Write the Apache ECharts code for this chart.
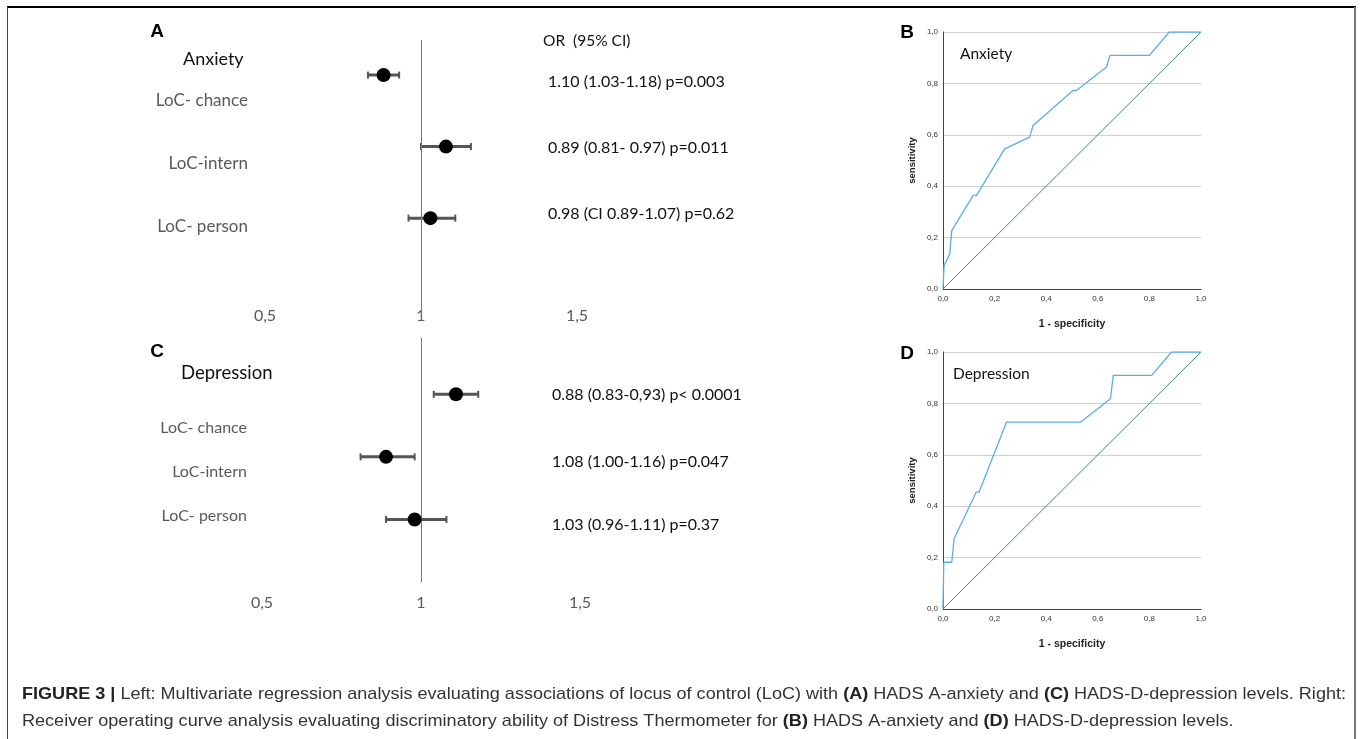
<!DOCTYPE html>
<html>
<head>
<meta charset="utf-8">
<script src="https://cdn.jsdelivr.net/npm/echarts@6/dist/echarts.min.js"></script>
<style>
html,body{margin:0;padding:0;background:#fff;}
#c{width:1362px;height:739px;}
</style>
</head>
<body>
<div id="c"></div>
<script>
// ---------- DATA ----------
// Forest plot rows (top to bottom)
const rowIdx = [0, 1, 2];
const rowLabels = ['LoC- chance', 'LoC-intern', 'LoC- person'];
const rowLabelsC = ['LoC- chance', 'LoC-intern', 'LoC- person'];
// Panel A (Anxiety) plotted odds ratios and CI
const A_or = [0.88, 1.08, 1.03];
const A_lo = [0.83, 1.00, 0.96];
const A_hi = [0.93, 1.16, 1.11];
const A_text = ['1.10 (1.03-1.18) p=0.003', '0.89 (0.81- 0.97) p=0.011', '0.98 (CI 0.89-1.07) p=0.62'];
// Panel C (Depression) plotted odds ratios and CI
const C_or = [1.11, 0.89, 0.98];
const C_lo = [1.04, 0.81, 0.89];
const C_hi = [1.18, 0.98, 1.08];
const C_text = ['0.88 (0.83-0,93) p< 0.0001', '1.08 (1.00-1.16) p=0.047', '1.03 (0.96-1.11) p=0.37'];
const forestTicks = { '0.5': '0,5', '1': '1', '1.5': '1,5' };
// ROC B (Anxiety)
const rocB_fpr = [0, 0.004, 0.026, 0.034, 0.117, 0.13, 0.239, 0.336, 0.349, 0.505, 0.518, 0.634, 0.647, 0.80, 0.877, 1.0];
const rocB_tpr = [0, 0.091, 0.136, 0.227, 0.364, 0.364, 0.545, 0.591, 0.636, 0.773, 0.773, 0.864, 0.909, 0.909, 1.0, 1.0];
// ROC D (Depression)
const rocD_fpr = [0, 0.003, 0.034, 0.043, 0.129, 0.14, 0.246, 0.533, 0.649, 0.66, 0.809, 0.886, 1.0];
const rocD_tpr = [0, 0.182, 0.182, 0.273, 0.455, 0.455, 0.727, 0.727, 0.818, 0.909, 0.909, 1.0, 1.0];
const diag = [[0, 0], [1, 1]];
const captionL1 = ['FIGURE 3 |', ' Left: Multivariate regression analysis evaluating associations of locus of control (LoC) with ', '(A)', ' HADS A-anxiety and ', '(C)', ' HADS-D-depression levels. Right:'];
const captionL2 = ['Receiver operating curve analysis evaluating discriminatory ability of Distress Thermometer for ', '(B)', ' HADS A-anxiety and ', '(D)', ' HADS-D-depression levels.'];

// ---------- HELPERS ----------
const zip = (a, b) => a.map((v, i) => [v, b[i]]);
const FONT = 'Lato';
const GRAY = '#595959';
const CAP = 17;

function errSeries(xi, lo, hi) {
  return {
    type: 'custom', xAxisIndex: xi, yAxisIndex: xi,
    data: rowIdx.map((r, i) => [lo[i], hi[i], r]),
    renderItem: function (params, api) {
      const p1 = api.coord([api.value(0), api.value(2)]);
      const p2 = api.coord([api.value(1), api.value(2)]);
      const st = { stroke: '#555', lineWidth: 3 };
      return {
        type: 'group', children: [
          { type: 'line', shape: { x1: p1[0], y1: p1[1], x2: p2[0], y2: p2[1] }, style: st },
          { type: 'line', shape: { x1: p1[0], y1: p1[1] - 3.5, x2: p1[0], y2: p1[1] + 3.5 }, style: { stroke: '#555', lineWidth: 2 } },
          { type: 'line', shape: { x1: p2[0], y1: p2[1] - 3.5, x2: p2[0], y2: p2[1] + 3.5 }, style: { stroke: '#555', lineWidth: 2 } }
        ]
      };
    },
    silent: true, z: 3
  };
}
function dotSeries(xi, or) {
  return {
    type: 'scatter', xAxisIndex: xi, yAxisIndex: xi,
    data: zip(or, rowIdx), symbolSize: 14,
    itemStyle: { color: '#000', opacity: 1 }, z: 5, silent: true,
    markLine: {
      silent: true, symbol: ['none', 'none'], label: { show: false },
      lineStyle: { color: '#777', width: 1, type: 'solid' },
      data: [{ xAxis: 1 }]
    }
  };
}
function forestX(gi, labelOffset, margin) {
  return {
    gridIndex: gi, type: 'value', min: 0.5, max: 1.5, interval: 0.5,
    offset: labelOffset,
    axisLine: { show: false }, axisTick: { show: false }, splitLine: { show: false },
    axisLabel: {
      margin: margin, color: GRAY, fontFamily: FONT, fontSize: 16,
      formatter: v => forestTicks[String(v)] || ''
    }
  };
}
function forestY(gi, mn, mx) {
  return { gridIndex: gi, type: 'value', inverse: true, min: mn, max: mx, show: false };
}
function rocX(gi) {
  return {
    gridIndex: gi, type: 'value', min: 0, max: 1, interval: 0.2,
    name: '1 - specificity', nameLocation: 'middle', nameGap: 30,
    nameTextStyle: { fontFamily: 'Liberation Sans', fontWeight: 'bold', fontSize: 10.5, color: '#222' },
    axisLine: { show: true, lineStyle: { color: '#444', width: 1 } },
    axisTick: { show: false }, splitLine: { show: false },
    axisLabel: { margin: 6, fontFamily: 'Liberation Sans', fontSize: 8, color: '#333',
      formatter: v => v.toFixed(1).replace('.', ',') }
  };
}
function rocY(gi) {
  return {
    gridIndex: gi, type: 'value', min: 0, max: 1, interval: 0.2,
    name: 'sensitivity', nameLocation: 'middle', nameGap: 26,
    nameTextStyle: { fontFamily: 'Liberation Sans', fontWeight: 'bold', fontSize: 9.5, color: '#222' },
    axisLine: { show: true, lineStyle: { color: '#444', width: 1 } },
    axisTick: { show: false },
    splitLine: { show: true, lineStyle: { color: '#cfcfcf', width: 1 } },
    axisLabel: { margin: 5, fontFamily: 'Liberation Sans', fontSize: 8, color: '#333',
      formatter: v => v.toFixed(1).replace('.', ',') }
  };
}
function rocSeries(gi, fpr, tpr) {
  return [
    { type: 'line', xAxisIndex: gi, yAxisIndex: gi, data: diag, showSymbol: false, silent: true,
      lineStyle: { color: '#3f8a78', width: 1 }, z: 2 },
    { type: 'line', xAxisIndex: gi, yAxisIndex: gi, data: zip(fpr, tpr), showSymbol: false, silent: true,
      lineStyle: { color: '#5aaee6', width: 1.3 }, z: 3 }
  ];
}
function txt(x, y, text, opt) {
  return {
    type: 'text', x: x, y: y, silent: true,
    style: Object.assign({ text: text, fontFamily: FONT, fontSize: 17, fill: GRAY,
      textAlign: 'left', textVerticalAlign: 'middle' }, opt || {})
  };
}
function letter(x, y, t) {
  return txt(x, y, t, { fontFamily: 'Liberation Sans', fontWeight: 'bold', fontSize: 19, fill: '#000', textAlign: 'center' });
}

// caption measurement
const cv = document.createElement('canvas').getContext('2d');
const isBold = p => p === 'FIGURE 3 |' || /^\([A-D]\)$/.test(p);
function measureLine(parts) {
  let w = 0;
  parts.forEach(p => {
    cv.font = (isBold(p) ? 'bold ' : '') + CAP + 'px "Liberation Sans"';
    w += cv.measureText(p).width;
  });
  return w;
}
function richLine(parts) {
  return parts.map(p => (isBold(p) ? '{b|' : '{n|') + p + '}').join('');
}
const capScale = (1346 - 22) / measureLine(captionL1);
const capRich = {
  b: { fontFamily: 'Liberation Sans', fontWeight: 'bold', fontSize: CAP, fill: '#222', color: '#222' },
  n: { fontFamily: 'Liberation Sans', fontSize: CAP, fill: '#333', color: '#333' }
};

// ---------- CHART ----------
const chart = echarts.init(document.getElementById('c'), null, { renderer: 'canvas' });
const graphics = [
  // frame
  { type: 'line', shape: { x1: 7, y1: 7, x2: 1356, y2: 7 }, style: { stroke: '#000', lineWidth: 2 }, silent: true },
  { type: 'line', shape: { x1: 7.5, y1: 7, x2: 7.5, y2: 739 }, style: { stroke: '#444', lineWidth: 1 }, silent: true },
  { type: 'line', shape: { x1: 1355, y1: 7, x2: 1355, y2: 739 }, style: { stroke: '#777', lineWidth: 2 }, silent: true },
  letter(157, 32, 'A'), letter(907, 33, 'B'), letter(157, 352, 'C'), letter(907, 354, 'D'),
  // Panel A texts
  txt(183, 59, 'Anxiety', { fill: '#111', fontSize: 18 }),
  txt(248, 101, rowLabels[0], { textAlign: 'right' }),
  txt(248, 164, rowLabels[1], { textAlign: 'right' }),
  txt(248, 227, rowLabels[2], { textAlign: 'right' }),
  txt(543, 41, 'OR  (95% CI)', { fill: '#111', fontSize: 15.5 }),
  txt(548, 82, A_text[0], { fill: '#111', fontSize: 16 }),
  txt(548, 148, A_text[1], { fill: '#111', fontSize: 16 }),
  txt(548, 214, A_text[2], { fill: '#111', fontSize: 16 }),
  // Panel C texts
  txt(181, 373, 'Depression', { fill: '#111', fontSize: 18.5 }),
  txt(247, 428, rowLabelsC[0], { textAlign: 'right', fontSize: 16 }),
  txt(247, 472, rowLabelsC[1], { textAlign: 'right', fontSize: 16 }),
  txt(247, 516, rowLabelsC[2], { textAlign: 'right', fontSize: 16 }),
  txt(552, 395, C_text[0], { fill: '#111', fontSize: 16 }),
  txt(552, 462, C_text[1], { fill: '#111', fontSize: 16 }),
  txt(552, 525, C_text[2], { fill: '#111', fontSize: 16 }),
  // ROC in-plot titles
  txt(960, 54, 'Anxiety', { fill: '#111', fontSize: 15.5 }),
  txt(953, 374, 'Depression', { fill: '#111', fontSize: 15.5 }),
  // caption
  { type: 'text', x: 22, y: 694, scaleX: capScale, silent: true,
    style: { text: richLine(captionL1), rich: capRich, fontFamily: 'Liberation Sans', fontSize: CAP, textVerticalAlign: 'middle' } },
  { type: 'text', x: 22, y: 721, scaleX: capScale, silent: true,
    style: { text: richLine(captionL2), rich: capRich, fontFamily: 'Liberation Sans', fontSize: CAP, textVerticalAlign: 'middle' } }
];

const option = {
  animation: false,
  backgroundColor: '#fff',
  grid: [
    { left: 265, top: 40, width: 312, height: 279 },
    { left: 262, top: 338, width: 318, height: 244 },
    { left: 943, top: 32, width: 258, height: 257 },
    { left: 943, top: 352, width: 258, height: 257 }
  ],
  xAxis: [forestX(0, -11, 0), forestX(1, 0, 13), rocX(2), rocX(3)],
  yAxis: [forestY(0, -0.49, 3.41), forestY(1, -0.9, 3.0), rocY(2), rocY(3)],
  series: [
    errSeries(0, A_lo, A_hi), dotSeries(0, A_or),
    errSeries(1, C_lo, C_hi), dotSeries(1, C_or)
  ].concat(rocSeries(2, rocB_fpr, rocB_tpr), rocSeries(3, rocD_fpr, rocD_tpr)),
  graphic: graphics
};
chart.setOption(option);
</script>
</body>
</html>
